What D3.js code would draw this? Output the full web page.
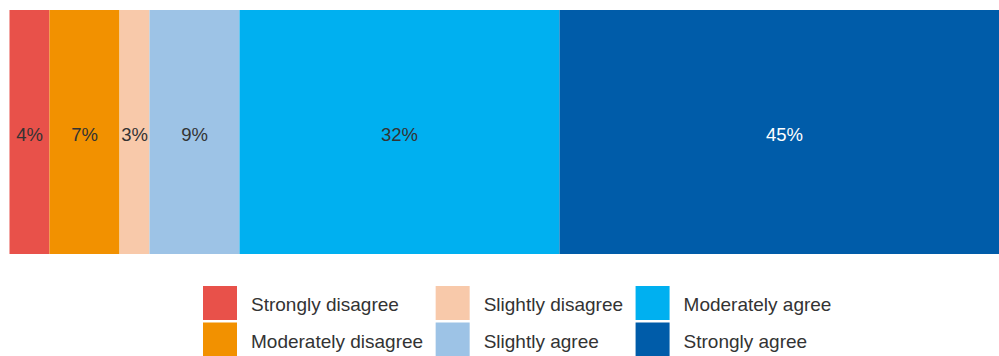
<!DOCTYPE html>
<html>
<head>
<meta charset="utf-8">
<script src="https://cdn.jsdelivr.net/npm/d3@7"></script>
<style>
  html, body { margin: 0; padding: 0; background: #fff; overflow: hidden; }
  svg { display: block; font-family: "Liberation Sans", Arial, sans-serif; }
</style>
</head>
<body>
<svg id="chart" width="999" height="356"></svg>
<script>
// Response categories, in stacking order
const categories = [
  "Strongly disagree", "Moderately disagree", "Slightly disagree",
  "Slightly agree", "Moderately agree", "Strongly agree"
];
// Share of responses (%)
const values = [4, 7, 3, 9, 32, 45];
const colors = ["#E8514A", "#F29100", "#F8C9AA", "#9DC3E6", "#00B0F0", "#005CA9"];
const labelColors = ["#333", "#333", "#333", "#333", "#333", "#fff"];

const svg = d3.select("#chart");

const x = d3.scaleLinear().domain([0, 100]).range([9.5, 1009.5]);
const y = d3.scaleBand().domain(["all"]).range([10, 254]).padding(0);

// cumulative starts for stacking
let acc = 0;
const segs = values.map((v, i) => {
  const s = { cat: categories[i], v, x0: acc, x1: acc + v, color: colors[i], lc: labelColors[i] };
  acc += v;
  return s;
});

const bar = svg.append("g");
bar.selectAll("rect").data(segs).join("rect")
  .attr("x", d => x(d.x0))
  .attr("y", y("all"))
  .attr("width", d => x(d.x1) - x(d.x0))
  .attr("height", y.bandwidth())
  .attr("fill", d => d.color);

bar.selectAll("text").data(segs).join("text")
  .attr("x", d => (x(d.x0) + x(d.x1)) / 2)
  .attr("y", y("all") + y.bandwidth() / 2 + 8.5)
  .attr("text-anchor", "middle")
  .attr("font-size", 18.5)
  .attr("fill", d => d.lc)
  .text(d => d.v + "%");

// Legend: three columns of two entries
const sw = 34, rowPitch = 36.5, gapText = 14, gapCol = 12.5;
const legendX = 203, legendY = 286;
const legend = svg.append("g");
let colX = legendX;
for (let c = 0; c < 3; c++) {
  let maxW = 0;
  for (let r = 0; r < 2; r++) {
    const i = c * 2 + r;
    const ry = legendY + r * rowPitch;
    legend.append("rect")
      .attr("x", colX).attr("y", ry)
      .attr("width", sw).attr("height", sw)
      .attr("fill", colors[i]);
    const t = legend.append("text")
      .attr("x", colX + sw + gapText)
      .attr("y", ry + sw / 2 + 8)
      .attr("font-size", 19)
      .attr("fill", "#333")
      .text(categories[i]);
    maxW = Math.max(maxW, t.node().getComputedTextLength());
  }
  colX += sw + gapText + maxW + gapCol;
}
</script>
</body>
</html>
